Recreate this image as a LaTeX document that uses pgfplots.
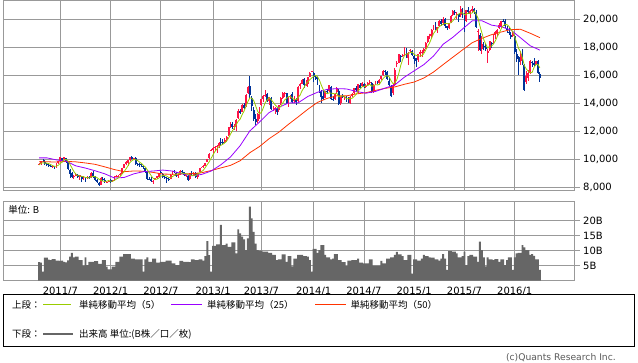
\documentclass[border=0pt]{standalone}
\usepackage{fontspec}
\setmainfont{DejaVu Sans}
\newfontfamily\cjk{Noto Sans CJK JP}
\usepackage{pgfplots}
\usepackage{pgfplotstable}
\pgfplotsset{compat=1.18}
\definecolor{upred}{RGB}{255,20,70}
\definecolor{dnblue}{RGB}{0,51,153}
\definecolor{maA}{RGB}{153,204,0}
\definecolor{maB}{RGB}{153,0,255}
\definecolor{maC}{RGB}{255,51,0}
\definecolor{volgray}{RGB}{102,102,102}
\definecolor{gridgray}{RGB}{153,153,153}

\pgfplotstableread{
i O H L C V
0 9590 9760 9560 9682 6.2
1 9660 9860 9610 9849 6.0
2 9860 10010 9780 9859 3.0
3 9840 9920 9600 9648 7.7
4 9660 9720 9520 9607 7.7
5 9580 9650 9440 9504 7.0
6 9510 9600 9430 9492 6.9
7 9490 9580 9370 9514 7.2
8 9480 9520 9320 9351 7.2
9 9370 9700 9350 9678 6.7
10 9700 9880 9650 9868 6.7
11 9890 10140 9860 10137 6.6
12 10100 10110 9880 9974 6.7
13 9990 10150 9950 10132 6.3
14 10100 10120 9810 9833 6.1
15 9800 9910 9270 9299 6.8
16 9250 9300 8656 8963 8.0
17 8990 9100 8690 8719 9.3
18 8700 8850 8620 8797 7.8
19 8830 9000 8780 8950 8.0
20 8910 8960 8700 8737 8.0
21 8700 8900 8550 8864 6.9
22 8800 8830 8360 8560 6.9
23 8580 8790 8520 8700 5.0
24 8650 8720 8360 8605 7.8
25 8630 8800 8600 8747 5.2
26 8740 8830 8660 8678 6.3
27 8700 9090 8660 9050 6.3
28 9000 9150 8640 8801 6.3
29 8740 8800 8480 8514 6.5
30 8530 8610 8340 8374 6.5
31 8330 8400 8135 8160 5.6
32 8190 8700 8180 8643 5.6
33 8620 8700 8490 8536 6.9
34 8550 8650 8380 8401 6.9
35 8350 8460 8300 8395 4.7
36 8420 8480 8390 8455 3.8
37 8550 8560 8350 8390 3.8
38 8420 8510 8370 8500 4.7
39 8510 8800 8480 8766 4.7
40 8780 8880 8740 8841 6.3
41 8820 8890 8760 8831 6.3
42 8870 9020 8840 8947 8.0
43 8960 9400 8940 9384 8.0
44 9400 9660 9360 9647 8.9
45 9650 9870 9560 9777 8.9
46 9720 9940 9540 9929 8.9
47 9960 10130 9900 10129 8.9
48 10140 10255 10010 10011 7.4
49 10000 10120 9940 10083 7.4
50 10100 10190 9660 9688 7.1
51 9650 9720 9500 9637 7.1
52 9640 9700 9450 9561 7.1
53 9530 9630 9460 9520 7.1
54 9490 9520 9300 9380 3.0
55 9350 9380 9040 9119 7.1
56 9070 9100 8590 8611 7.8
57 8600 8720 8500 8580 6.3
58 8570 8710 8420 8440 6.3
59 8350 8500 8238 8459 7.4
60 8500 8690 8490 8647 7.4
61 8690 8800 8600 8798 6.0
62 8750 9010 8680 9007 6.0
63 9060 9140 8960 9020 6.3
64 8980 9010 8700 8724 6.3
65 8700 8810 8630 8670 6.3
66 8640 8720 8330 8566 6.7
67 8600 8700 8500 8555 6.7
68 8570 8920 8560 8891 6.7
69 8900 9190 8880 9162 5.8
70 9150 9220 9050 9070 5.8
71 9040 9080 8800 8840 5.2
72 8800 8920 8680 8871 5.2
73 8900 9230 8880 9159 6.6
74 9160 9230 9030 9110 6.6
75 9080 9100 8840 8870 6.3
76 8830 8900 8760 8863 6.3
77 8830 8850 8500 8534 6.3
78 8560 9010 8540 9002 6.2
79 9000 9140 8900 8933 7.1
80 8910 9060 8830 9007 7.1
81 9000 9080 8660 8757 6.9
82 8710 9050 8620 9024 6.9
83 9100 9380 9100 9366 7.1
84 9370 9470 9350 9446 7.1
85 9450 9570 9400 9527 6.7
86 9550 9750 9500 9737 8.2
87 9830 10040 9820 10039 13.2
88 10060 10430 10050 10395 8.5
89 10600 10740 10600 10688 3.0
90 10640 10880 10400 10801 11.6
91 10800 10960 10600 10913 11.6
92 10850 11000 10480 10926 12.1
93 10970 11200 10830 11191 12.1
94 11230 11500 10950 11153 18.6
95 11210 11470 11050 11173 11.9
96 11250 11500 11140 11385 11.9
97 11400 11660 11250 11606 12.4
98 11700 12300 11650 12283 11.3
99 12300 12650 12250 12560 11.3
100 12520 12650 12180 12338 12.8
101 12350 12520 12100 12397 12.8
102 12300 12850 12000 12833 9.1
103 12950 13600 12900 13485 17.1
104 13450 13570 13200 13316 15.8
105 13400 13950 13370 13884 14.7
106 13900 14050 13630 13694 13.8
107 13800 14650 13750 14607 10.2
108 14700 15200 14650 15138 14.1
109 15200 15942 14400 14612 24.7
110 14400 14500 13440 13774 20.8
111 13500 13700 12700 12877 16.3
112 12900 13230 12415 12686 12.4
113 12750 13300 12600 13230 10.2
114 13000 13700 12900 13677 10.0
115 13900 14330 13800 14309 10.0
116 14300 14620 14100 14506 9.7
117 14500 14950 14450 14589 9.7
118 14650 14760 14100 14129 9.7
119 14150 14480 13860 14466 9.3
120 14400 14470 13600 13615 9.3
121 13650 13800 13460 13650 8.6
122 13600 13760 13200 13660 8.6
123 13600 13740 13190 13389 6.9
124 13500 13860 13400 13860 7.1
125 14000 14450 13900 14404 7.1
126 14400 14800 14340 14742 8.8
127 14750 14800 14450 14760 8.8
128 14700 14750 13990 14024 6.3
129 14100 14450 13750 14404 8.2
130 14450 14600 14300 14561 8.2
131 14650 14800 14080 14088 4.8
132 14150 14500 14050 14202 7.4
133 14200 14400 13900 14086 7.4
134 14150 15200 14100 15165 8.6
135 15250 15450 15050 15381 8.6
136 15400 15750 15350 15661 8.6
137 15700 15800 15100 15299 8.2
138 15300 15650 15200 15403 8.2
139 15350 15900 15150 15870 8.0
140 15900 16200 15850 16178 6.9
141 16250 16320 16200 16291 3.0
142 16150 16200 15500 15912 10.6
143 15900 16000 15650 15734 10.6
144 15800 15900 15350 15391 9.3
145 15200 15300 14700 14914 10.2
146 14900 14950 13995 14462 11.9
147 14500 14850 14200 14313 11.9
148 14400 14900 14350 14865 8.6
149 14850 15000 14650 14841 7.8
150 14850 15310 14800 15274 7.8
151 15150 15200 14300 14327 7.1
152 14300 14500 14200 14224 7.4
153 14300 14720 14250 14696 8.9
154 14800 15160 14750 15063 8.9
155 14900 15000 13885 13960 6.9
156 14000 14550 13900 14516 6.9
157 14500 14650 14350 14429 6.2
158 14400 14550 14250 14457 6.2
159 14450 14500 14100 14199 4.9
160 14200 14450 14000 14097 6.7
161 14050 14500 13964 14462 6.7
162 14500 14700 14450 14632 6.9
163 14700 15100 14650 15077 6.9
164 15100 15250 14850 14933 6.9
165 14900 15400 14750 15349 7.4
166 15300 15450 15000 15095 6.0
167 15200 15500 15150 15437 6.0
168 15400 15450 15100 15164 5.8
169 15200 15400 15100 15215 5.8
170 15300 15500 15250 15457 5.8
171 15450 15650 15400 15523 7.1
172 15450 15500 14750 14778 7.1
173 14800 15350 14750 15318 5.0
174 15350 15600 15300 15539 5.0
175 15550 15600 15350 15424 5.0
176 15450 15750 15400 15668 5.0
177 15700 15960 15650 15948 6.6
178 16000 16350 15950 16321 5.8
179 16300 16375 16050 16229 5.8
180 16200 16300 15650 15708 7.4
181 15600 15800 15200 15300 7.4
182 15250 15300 14529 14532 7.8
183 14700 15400 14600 15291 7.8
184 15300 16550 15250 16413 8.6
185 16800 17000 16600 16880 9.6
186 16900 17500 16850 17490 8.8
187 17400 17450 16970 17357 8.8
188 17400 17500 17300 17459 8.2
189 17500 18030 17450 17920 6.9
190 17900 17950 17200 17371 6.9
191 17200 17650 16700 17621 8.6
192 17700 17900 17650 17818 8.6
193 17750 17800 17400 17450 2.4
194 17400 17550 16800 17197 7.1
195 17200 17250 16600 17014 7.1
196 17100 17550 16950 17511 6.7
197 17500 17800 17300 17674 6.7
198 17600 17800 17300 17648 7.4
199 17700 17950 17600 17913 8.6
200 17950 18350 17900 18332 8.2
201 18400 18800 18300 18797 8.2
202 18800 18980 18600 18971 7.8
203 18800 19300 18600 19254 7.7
204 19300 19600 19200 19560 7.7
205 19550 19780 19200 19286 7.1
206 19250 19450 19000 19435 7.1
207 19500 19950 19450 19908 6.7
208 19900 20000 19550 19653 7.4
209 19700 20133 19600 20020 8.9
210 20000 20100 19400 19531 7.4
211 19500 19550 19250 19379 3.6
212 19400 19750 19300 19733 9.9
213 19800 20300 19750 20264 9.9
214 20300 20650 20250 20563 9.7
215 20550 20650 20300 20461 9.7
216 20400 20500 20000 20407 9.1
217 20350 20400 19800 20174 7.8
218 20300 20952 20200 20706 7.8
219 20700 20800 20100 20539 8.2
220 20400 20450 19115 19779 9.7
221 19900 20650 19800 20650 5.2
222 20650 20850 20400 20544 8.2
223 20350 20650 20100 20585 8.6
224 20600 20946 20450 20724 8.6
225 20750 20800 20400 20519 8.0
226 20500 20650 19400 19435 8.0
227 19100 19300 17714 19136 6.3
228 18900 19000 17750 17792 13.0
229 17900 18790 17500 18264 10.2
230 18100 18400 17800 18070 7.8
231 18000 18250 17750 17880 4.8
232 17600 17900 16901 17725 7.8
233 17800 18450 17700 18438 7.1
234 18300 18400 17950 18291 7.1
235 18300 18950 18250 18825 6.9
236 18900 19150 18600 19083 7.2
237 19000 19300 18800 19265 7.2
238 19350 19700 19300 19596 6.3
239 19550 19900 19400 19879 7.1
240 19900 20012 19800 19883 7.1
241 19900 20000 19400 19504 5.2
242 19400 19500 19000 19230 6.9
243 19100 19450 18850 18986 7.8
244 18900 19100 18600 18769 7.8
245 18800 19100 18750 19034 3.6
246 18800 18900 17550 17697 7.8
247 17500 17850 16950 17147 9.1
248 17300 17400 16017 16958 9.3
249 17000 17700 16750 17518 9.3
250 17700 17900 16800 16820 11.9
251 16700 16800 14865 14952 11.1
252 15500 16300 15400 15967 10.2
253 15800 16400 15600 16188 10.2
254 16150 17100 16100 17015 8.6
255 16950 17000 16600 16938 8.9
256 16900 17250 16700 16725 8.3
257 16700 17050 16700 17002 7.1
258 17000 17100 16100 16164 7.1
259 16100 16200 15500 15821 3.6
}\candles

\pgfplotstableread{
i m
0 9591
1 9720
2 9750
3 9726
4 9729
5 9693
6 9622
7 9553
8 9494
9 9508
10 9581
11 9710
12 9802
13 9958
14 9989
15 9875
16 9640
17 9389
18 9122
19 8946
20 8833
21 8813
22 8782
23 8762
24 8693
25 8695
26 8658
27 8756
28 8776
29 8758
30 8683
31 8580
32 8498
33 8445
34 8423
35 8427
36 8486
37 8435
38 8428
39 8501
40 8590
41 8666
42 8777
43 8954
44 9130
45 9317
46 9537
47 9773
48 9899
49 9986
50 9968
51 9910
52 9796
53 9698
54 9557
55 9443
56 9238
57 9042
58 8826
59 8642
60 8547
61 8585
62 8670
63 8786
64 8839
65 8844
66 8797
67 8707
68 8681
69 8769
70 8849
71 8904
72 8967
73 9020
74 9010
75 8970
76 8975
77 8907
78 8876
79 8840
80 8868
81 8847
82 8945
83 9017
84 9120
85 9224
86 9420
87 9623
88 9829
89 10077
90 10332
91 10567
92 10745
93 10904
94 10997
95 11071
96 11166
97 11302
98 11520
99 11801
100 12034
101 12237
102 12482
103 12723
104 12874
105 13183
106 13442
107 13797
108 14128
109 14387
110 14365
111 14202
112 13817
113 13436
114 13249
115 13356
116 13682
117 14062
118 14242
119 14400
120 14261
121 14090
122 13904
123 13756
124 13635
125 13793
126 14011
127 14231
128 14358
129 14467
130 14498
131 14367
132 14256
133 14268
134 14420
135 14584
136 14899
137 15118
138 15382
139 15523
140 15682
141 15808
142 15931
143 15997
144 15901
145 15648
146 15283
147 14963
148 14789
149 14679
150 14751
151 14724
152 14706
153 14672
154 14717
155 14454
156 14492
157 14533
158 14485
159 14312
160 14340
161 14329
162 14369
163 14493
164 14640
165 14891
166 15017
167 15178
168 15196
169 15252
170 15274
171 15359
172 15227
173 15258
174 15323
175 15316
176 15345
177 15579
178 15780
179 15918
180 15975
181 15901
182 15618
183 15412
184 15449
185 15683
186 16121
187 16686
188 17120
189 17421
190 17519
191 17546
192 17638
193 17636
194 17491
195 17420
196 17398
197 17369
198 17409
199 17552
200 17816
201 18073
202 18332
203 18653
204 18983
205 19174
206 19301
207 19489
208 19568
209 19660
210 19709
211 19698
212 19663
213 19785
214 19894
215 20080
216 20286
217 20374
218 20462
219 20457
220 20321
221 20370
222 20444
223 20419
224 20456
225 20604
226 20361
227 20080
228 19521
229 19029
230 18539
231 18228
232 17946
233 18075
234 18081
235 18232
236 18472
237 18780
238 19012
239 19330
240 19541
241 19625
242 19618
243 19496
244 19274
245 19105
246 18743
247 18327
248 17921
249 17671
250 17228
251 16679
252 16443
253 16289
254 16188
255 16212
256 16567
257 16774
258 16769
259 16529
}\mafive

\pgfplotstableread{
i m
0 10102
4 10103
9 9957
14 9866
19 9533
24 9373
29 9179
34 8962
39 8664
44 8701
49 8960
54 9119
59 9163
64 9231
69 9159
74 8963
79 8820
84 8916
89 9163
94 9609
99 10167
104 10974
109 12027
114 12662
119 13342
124 13709
129 14027
134 14034
139 14489
144 14789
149 14998
154 15048
159 15026
164 14850
169 14720
174 14849
179 15089
184 15316
189 15873
194 16320
199 16766
204 17379
209 18222
214 18716
219 19309
224 19890
229 19899
234 19584
239 19471
244 19234
249 18677
254 18109
259 17798
}\matwentyfive

\pgfplotstableread{
i m
0 9831
4 9824
9 9801
14 9852
19 9818
24 9738
29 9641
34 9459
39 9265
44 9117
49 9166
54 9149
59 9062
64 8947
69 8930
74 8961
79 8970
84 9039
89 9197
94 9384
99 9565
104 9897
109 10471
114 10912
119 11476
124 11938
129 12501
134 13031
139 13575
144 14066
149 14353
154 14538
159 14530
164 14669
169 14755
174 14923
179 15069
184 15171
189 15361
194 15520
199 15808
204 16234
209 16769
214 17294
219 17815
224 18328
229 18639
234 18903
239 19093
244 19272
249 19284
254 19004
259 18691
}\mafifty

\pgfplotsset{
  chartax/.style={
    scale only axis, width=571.4pt,
    xmin=-18.5, xmax=277,
    xtick={11,37,63,90,115,142,168,194,220,246},
    axis line style={gridgray, line width=0.8pt},
    grid=major, grid style={gridgray, line width=0.8pt},
    xtick style={draw=none},
    ytick pos=right, yticklabel pos=right,
    ytick style={gridgray, line width=0.8pt},
    tick align=outside, major tick length=5pt,
    ticklabel style={font=\fontsize{10}{12}\selectfont},
    scaled y ticks=false,
    /pgf/number format/assume math mode=true,
    /pgf/number format/1000 sep={,},
  },
  candle/.style={draw=none, mark=none, forget plot,
    error bars/y explicit, error bars/error mark=none},
}

\begin{document}
\begin{tikzpicture}
\path[use as bounding box] (0pt,0pt) rectangle (638pt,362pt);

\begin{axis}[chartax,
  at={(3.3pt,172pt)}, anchor=south west, height=189.5pt,
  ymin=7807, ymax=21343,
  ytick={8000,10000,12000,14000,16000,18000,20000},
  xticklabels={},
]
% wicks
\addplot[candle,
  restrict expr to domain={\thisrow{C}-\thisrow{O}}{0:50000},
  error bars/y dir=both,
  error bars/error bar style={draw=upred, line width=0.8pt}]
  table[x=i, y=C, y error plus expr={\thisrow{H}-\thisrow{C}}, y error minus expr={\thisrow{C}-\thisrow{L}}] {\candles};
\addplot[candle,
  restrict expr to domain={\thisrow{C}-\thisrow{O}}{-50000:-0.01},
  error bars/y dir=both,
  error bars/error bar style={draw=dnblue, line width=0.8pt}]
  table[x=i, y=C, y error plus expr={\thisrow{H}-\thisrow{C}}, y error minus expr={\thisrow{C}-\thisrow{L}}] {\candles};
% bodies
\addplot[candle,
  restrict expr to domain={\thisrow{C}-\thisrow{O}}{0:50000},
  error bars/y dir=minus,
  error bars/error bar style={draw=upred, line width=1.9pt}]
  table[x=i, y=C, y error minus expr={\thisrow{C}-\thisrow{O}}] {\candles};
\addplot[candle,
  restrict expr to domain={\thisrow{C}-\thisrow{O}}{-50000:-0.01},
  error bars/y dir=minus,
  error bars/error bar style={draw=dnblue, line width=1.9pt}]
  table[x=i, y=O, y error minus expr={\thisrow{O}-\thisrow{C}}] {\candles};
% moving averages
\addplot[maC, line width=0.8pt, mark=none] table[x=i, y=m] {\mafifty};
\addplot[maB, line width=0.8pt, mark=none] table[x=i, y=m] {\matwentyfive};
\addplot[maA, line width=0.8pt, mark=none] table[x=i, y=m] {\mafive};
\end{axis}

\begin{axis}[chartax,
  at={(3.3pt,81.3pt)}, anchor=south west, height=79.7pt,
  ymin=0, ymax=26.6,
  ytick={5,10,15,20}, yticklabels={5B,10B,15B,20B},
  xticklabels={2011/7,2012/1,2012/7,2013/1,2013/7,2014/1,2014/7,2015/1,2015/7,2016/1},
  xticklabel style={yshift=2pt},
]
\addplot[ybar, bar width=1, bar shift=0pt, fill=volgray, draw=none] table[x=i, y=V] {\candles};
\end{axis}

\node[anchor=west, inner sep=0pt, font=\cjk\fontsize{9.5}{11}\selectfont] at (8.3pt,152pt) {単位: B};

% legend
\draw[black, line width=0.8pt] (3.3pt,16pt) rectangle (634.7pt,67.7pt);
\begin{scope}[every node/.style={anchor=west, inner sep=0pt, font=\cjk\fontsize{9.5}{11}\selectfont}]
\node at (12pt,57pt) {上段：};
\draw[maA, line width=0.9pt] (43.3pt,57.3pt) -- (71pt,57.3pt);
\node at (79pt,57pt) {単純移動平均（5）};
\draw[maB, line width=0.9pt] (171pt,57.3pt) -- (201.7pt,57.3pt);
\node at (207pt,57pt) {単純移動平均（25）};
\draw[maC, line width=0.9pt] (315pt,57.3pt) -- (346.3pt,57.3pt);
\node at (350.3pt,57pt) {単純移動平均（50）};
\node at (12pt,28pt) {下段：};
\draw[volgray, line width=2.7pt] (43.3pt,28pt) -- (72.7pt,28pt);
\node at (79pt,28pt) {出来高 単位:(B株／口／枚)};
\end{scope}
\node[anchor=east, inner sep=0pt, font=\fontsize{9.2}{10}\selectfont, text=black!65] at (616pt,4.3pt) {(c)Quants Research Inc.};
\end{tikzpicture}
\end{document}
